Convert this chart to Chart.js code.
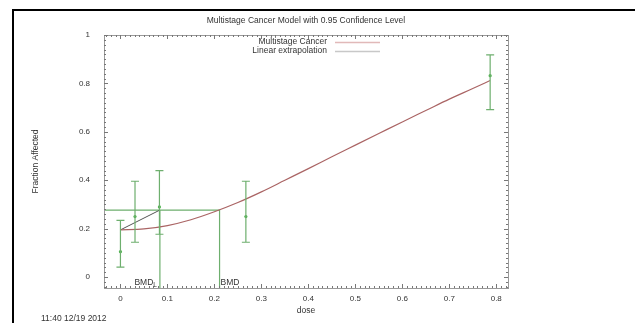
<!DOCTYPE html>
<html>
<head>
<meta charset="utf-8">
<script src="https://cdn.jsdelivr.net/npm/chart.js@4/dist/chart.umd.min.js"></script>
<style>
  html, body { margin: 0; padding: 0; background: #fff; }
  #wrap { width: 635px; height: 323px; position: relative; }
</style>
</head>
<body>
<div id="wrap"><canvas id="c"></canvas></div>
<script>
// observed groups
const doses = [0, 0.031, 0.083, 0.267, 0.787];
const fractions = [0.105, 0.25, 0.29, 0.25, 0.832];
const lowerCI = [0.041, 0.144, 0.177, 0.144, 0.692];
const upperCI = [0.234, 0.396, 0.44, 0.396, 0.918];

// fitted multistage curve
const modelDose = [0, 0.05, 0.1, 0.15, 0.2, 0.25, 0.3, 0.35, 0.4, 0.45, 0.5, 0.55, 0.6, 0.65, 0.7, 0.75, 0.787];
const modelFrac = [0.195, 0.199, 0.213, 0.237, 0.27, 0.308, 0.352, 0.4, 0.448, 0.497, 0.545, 0.593, 0.641, 0.688, 0.735, 0.779, 0.812];

const background = 0.195;
const bmrLevel = 0.277;
const bmd = 0.211;
const bmdl = 0.084;

const xTicks = [0, 0.1, 0.2, 0.3, 0.4, 0.5, 0.6, 0.7, 0.8];
const xTickLabels = ["0", "0.1", "0.2", "0.3", "0.4", "0.5", "0.6", "0.7", "0.8"];
const yTicks = [0, 0.2, 0.4, 0.6, 0.8, 1];
const yTickLabels = ["0", "0.2", "0.4", "0.6", "0.8", "1"];

const xMin = -0.035, xMax = 0.825, yMin = -0.045, yMax = 1.0;

const FONT = "Liberation Sans, Arial, sans-serif";
const TEXT = "#333";
const GREEN = "rgb(110,175,110)";

function pts(xs, ys) { return xs.map((x, i) => ({ x: x, y: ys[i] })); }

const decorations = {
  id: "decorations",
  beforeDraw(chart) {
    const ctx = chart.ctx;
    ctx.save();
    ctx.fillStyle = "#fff";
    ctx.fillRect(0, 0, chart.width, chart.height);
    // outer black frame (left + top)
    ctx.strokeStyle = "#000";
    ctx.lineWidth = 2;
    ctx.beginPath();
    ctx.moveTo(13, chart.height);
    ctx.lineTo(13, 10);
    ctx.lineTo(chart.width, 10);
    ctx.stroke();
    ctx.restore();
  },
  afterDatasetsDraw(chart) {
    const ctx = chart.ctx;
    const xs = chart.scales.x, ys = chart.scales.y;
    const a = chart.chartArea;
    ctx.save();

    // error bars
    ctx.strokeStyle = GREEN;
    ctx.lineWidth = 1.2;
    doses.forEach((d, i) => {
      const px = xs.getPixelForValue(d);
      const lo = ys.getPixelForValue(lowerCI[i]);
      const hi = ys.getPixelForValue(upperCI[i]);
      ctx.beginPath();
      ctx.moveTo(px, lo); ctx.lineTo(px, hi);
      ctx.moveTo(px - 4, lo); ctx.lineTo(px + 4, lo);
      ctx.moveTo(px - 4, hi); ctx.lineTo(px + 4, hi);
      ctx.stroke();
    });

    // plot box with gnuplot-like ticks on all sides
    ctx.strokeStyle = "#999";
    ctx.lineWidth = 1;
    ctx.strokeRect(Math.round(a.left) + 0.5, Math.round(a.top) + 0.5, Math.round(a.right - a.left), Math.round(a.bottom - a.top));
    ctx.strokeStyle = "#777";
    ctx.beginPath();
    for (let v = -0.03; v <= xMax + 1e-9; v += 0.01) {
      const px = Math.round(xs.getPixelForValue(v)) + 0.5;
      const major = Math.abs(v * 10 - Math.round(v * 10)) < 1e-6;
      const len = major ? 4 : 2;
      ctx.moveTo(px, a.bottom); ctx.lineTo(px, a.bottom - len);
      ctx.moveTo(px, a.top); ctx.lineTo(px, a.top + len);
    }
    for (let v = -0.04; v <= yMax + 1e-9; v += 0.02) {
      const py = Math.round(ys.getPixelForValue(v)) + 0.5;
      const major = Math.abs(v * 5 - Math.round(v * 5)) < 1e-6;
      const len = major ? 4 : 2;
      ctx.moveTo(a.left, py); ctx.lineTo(a.left + len, py);
      ctx.moveTo(a.right, py); ctx.lineTo(a.right - len, py);
    }
    ctx.stroke();

    // BMD / BMDL labels
    ctx.fillStyle = TEXT;
    ctx.font = "8.5px " + FONT;
    ctx.textBaseline = "middle";
    const yLab = a.bottom - 5;
    ctx.textAlign = "left";
    ctx.fillText("BMD", xs.getPixelForValue(bmd) + 1, yLab);
    const bx = xs.getPixelForValue(bmdl) - 3;
    ctx.font = "6.5px " + FONT;
    ctx.textAlign = "right";
    ctx.fillText("L", bx, yLab + 2.5);
    const lw = ctx.measureText("L").width;
    ctx.font = "8.5px " + FONT;
    ctx.fillText("BMD", bx - lw, yLab);

    // title
    const cx = (a.left + a.right) / 2;
    ctx.textAlign = "center";
    ctx.fillText("Multistage Cancer Model with 0.95 Confidence Level", cx, 21);
    ctx.fillText("dose", cx, 311);

    // legend
    ctx.textAlign = "right";
    ctx.fillText("Multistage Cancer", 327, 42);
    ctx.fillText("Linear extrapolation", 327, 51);
    ctx.lineWidth = 1.5;
    ctx.strokeStyle = "rgb(225,185,185)";
    ctx.beginPath(); ctx.moveTo(335, 42.5); ctx.lineTo(380, 42.5); ctx.stroke();
    ctx.strokeStyle = "rgb(200,200,200)";
    ctx.beginPath(); ctx.moveTo(335, 51.5); ctx.lineTo(380, 51.5); ctx.stroke();

    // y title
    ctx.save();
    ctx.translate(36, (a.top + a.bottom) / 2);
    ctx.rotate(-Math.PI / 2);
    ctx.textAlign = "center";
    ctx.fillText("Fraction Affected", 0, 0);
    ctx.restore();

    // timestamp
    ctx.textAlign = "left";
    ctx.fillText("11:40 12/19 2012", 41, 319);
    ctx.restore();
  }
};

new Chart(document.getElementById("c"), {
  type: "line",
  data: {
    datasets: [
      {
        label: "Multistage Cancer",
        data: pts(modelDose, modelFrac),
        borderColor: "rgb(170,100,100)",
        borderWidth: 1.2,
        pointRadius: 0,
        cubicInterpolationMode: "monotone"
      },
      {
        label: "Linear extrapolation",
        data: pts([0, bmdl], [background, bmrLevel]),
        borderColor: "#555",
        borderWidth: 1,
        pointRadius: 0
      },
      {
        label: "BMD",
        data: pts([xMin, bmd, bmd], [bmrLevel, bmrLevel, yMin]),
        borderColor: GREEN,
        borderWidth: 1.2,
        pointRadius: 0
      },
      {
        label: "BMDL",
        data: pts([bmdl, bmdl], [bmrLevel, yMin]),
        borderColor: GREEN,
        borderWidth: 1.2,
        pointRadius: 0
      },
      {
        label: "Observed",
        data: pts(doses, fractions),
        showLine: false,
        pointRadius: 1.6,
        pointBackgroundColor: "rgb(80,180,80)",
        pointBorderWidth: 0
      }
    ]
  },
  options: {
    responsive: true,
    maintainAspectRatio: false,
    animation: false,
    layout: { padding: { left: 0, right: 127, top: 35, bottom: 0 } },
    plugins: { legend: { display: false }, tooltip: { enabled: false }, title: { display: false } },
    scales: {
      x: {
        type: "linear",
        min: xMin,
        max: xMax,
        afterBuildTicks: s => { s.ticks = xTicks.map(v => ({ value: v })); },
        afterFit: s => { s.height = 35; },
        grid: { display: false, drawTicks: false },
        border: { display: false },
        ticks: {
          padding: 6,
          color: TEXT,
          font: { family: FONT, size: 8 },
          maxRotation: 0,
          autoSkip: false,
          callback: (v, i) => xTickLabels[i]
        }
      },
      y: {
        type: "linear",
        min: yMin,
        max: yMax,
        afterBuildTicks: s => { s.ticks = yTicks.map(v => ({ value: v })); },
        afterFit: s => { s.width = 104; },
        grid: { display: false, drawTicks: false },
        border: { display: false },
        ticks: {
          padding: 14,
          color: TEXT,
          font: { family: FONT, size: 8 },
          autoSkip: false,
          callback: (v, i) => yTickLabels[i]
        }
      }
    }
  },
  plugins: [decorations]
});
</script>
</body>
</html>
